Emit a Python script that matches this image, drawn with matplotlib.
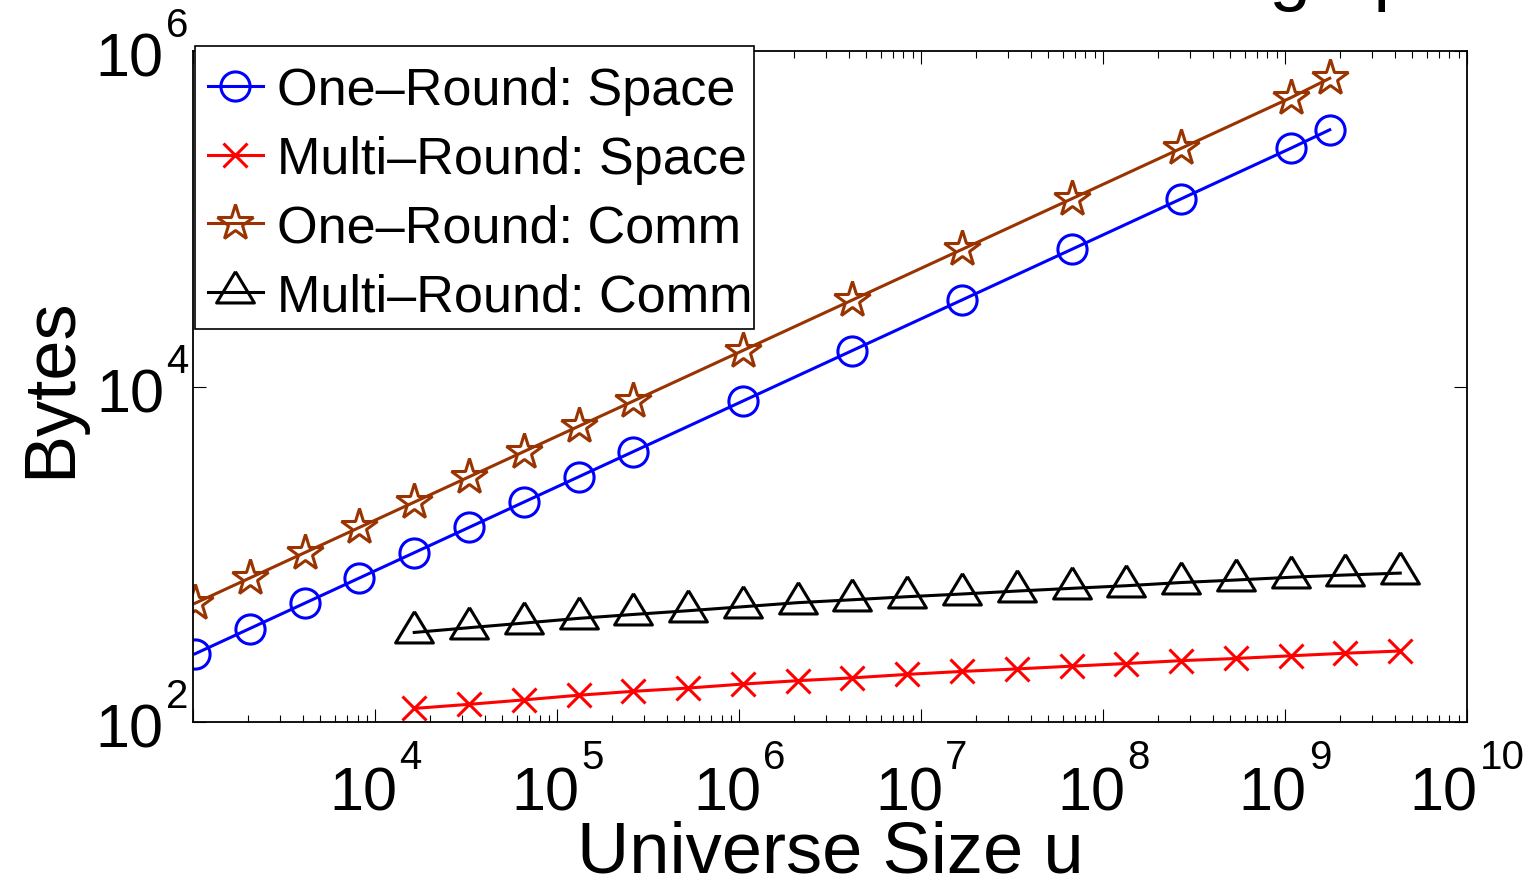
import numpy as np
import matplotlib
matplotlib.use("Agg")
import matplotlib.pyplot as plt
from matplotlib import font_manager
from matplotlib.patches import Rectangle
from matplotlib.ticker import LogLocator, NullLocator, NullFormatter
from matplotlib.transforms import ScaledTranslation, blended_transform_factory

# --- values ---
u_one = [1024, 2048, 4096, 8192, 16384, 32768, 65536, 131072, 262144,
         1048576, 4194304, 16777216, 67108864, 268435456, 1073741824, 1.76e9]
one_space = [256, 362, 512, 724, 1024, 1448, 2048, 2896, 4096,
             8192, 16384, 32768, 65536, 131072, 262144, 338000]
one_comm = [512, 724, 1024, 1448, 2048, 2896, 4096, 5793, 8192,
            16384, 32768, 65536, 131072, 262144, 524288, 685000]

u_multi = [16384, 32768, 65536, 131072, 262144, 524288, 1048576, 2097152,
           4194304, 8388608, 16777216, 33554432, 67108864, 134217728,
           268435456, 536870912, 1073741824, 2147483648, 4294967296]
multi_space = [121, 128, 136, 145, 153, 160, 169, 177, 184, 193,
               201, 208, 216, 224, 233, 240, 249, 258, 266]
multi_comm = [343, 366, 390, 416, 439, 462, 488, 516, 537, 560,
              581, 605, 628, 651, 680, 704, 731, 754, 774]

labels = ["One\u2013Round: Space", "Multi\u2013Round: Space",
          "One\u2013Round: Comm", "Multi\u2013Round: Comm"]
x_ticks = [1e3, 1e4, 1e5, 1e6, 1e7, 1e8, 1e9, 1e10]
x_exps = ["", "4", "5", "6", "7", "8", "9", "10"]   # 10^3 has no label
y_ticks = [1e2, 1e4, 1e6]
y_exps = ["2", "4", "6"]

# fonts
names = {f.name for f in font_manager.fontManager.ttflist}
main_font = "Liberation Sans" if "Liberation Sans" in names else "DejaVu Sans"
if "Liberation Sans Narrow" in names:
    tick_font, base_size, exp_size = "Liberation Sans Narrow", 48, 31
else:
    tick_font, base_size, exp_size = main_font, 44, 29
plt.rcParams["font.family"] = [main_font, "DejaVu Sans"]

# triangle with the data point 2/3 of the way down, like the original
tri = [(0, 19.3), (-17.5, -9.7), (17.5, -9.7), (0, 19.3)]

fig = plt.figure(figsize=(15.36, 8.79), dpi=100)
ax = fig.add_axes([0.1258, 0.1771, 0.8293, 0.7641])

lw = 2.2
ax.plot(u_one, one_space, "-", color="blue", lw=lw, marker="o", ms=21,
        mfc="none", mew=lw, label=labels[0])
ax.plot(u_multi, multi_space, "-", color="red", lw=lw, marker="x", ms=17,
        mew=lw, label=labels[1])
ax.plot(u_one, one_comm, "-", color="#993300", lw=lw, marker="*", ms=27,
        mfc="none", mew=lw, label=labels[2])
ax.plot(u_multi, multi_comm, "-", color="black", lw=lw, marker=tri, ms=30,
        mfc="none", mew=lw, label=labels[3])

ax.set_xscale("log")
ax.set_yscale("log")
ax.set_xlim(1e3, 1e10)
ax.set_ylim(1e2, 1e6)

ax.set_xticks(x_ticks)
ax.set_xticklabels([])
ax.xaxis.set_minor_locator(LogLocator(base=10, subs=np.arange(2, 10), numticks=50))
ax.xaxis.set_minor_formatter(NullFormatter())
ax.set_yticks(y_ticks)
ax.set_yticklabels([])
ax.yaxis.set_minor_locator(NullLocator())

ax.tick_params(which="both", direction="in", top=True, right=True, width=0.8)
ax.tick_params(which="major", length=9.4)
ax.tick_params(which="minor", length=5)
for s in ax.spines.values():
    s.set_linewidth(1.3)


# tick labels in the MATLAB style: "10" with a high exponent
def off(dx, dy):
    return ScaledTranslation(dx / 100, dy / 100, fig.dpi_scale_trans)


renderer = fig.canvas.get_renderer()
bx = blended_transform_factory(ax.transData, ax.transAxes)
for t, e in zip(x_ticks, x_exps):
    if not e:
        continue
    t10 = ax.text(t, 0, "10", transform=bx, ha="left", va="baseline",
                  fontsize=base_size, family=tick_font, clip_on=False)
    te = ax.text(t, 0, e, transform=bx, ha="left", va="baseline",
                 fontsize=exp_size, family=tick_font, clip_on=False)
    w10 = t10.get_window_extent(renderer).width
    we = te.get_window_extent(renderer).width
    left = -(w10 + 2 + we) / 2
    t10.set_transform(bx + off(left, -86.7))
    te.set_transform(bx + off(left + w10 + 2, -45.5))

by = blended_transform_factory(ax.transAxes, ax.transData)
for t, e in zip(y_ticks, y_exps):
    te = ax.text(0, t, e, transform=by + off(-5, 15), ha="right",
                 va="baseline", fontsize=exp_size, family=tick_font,
                 clip_on=False)
    we = te.get_window_extent(renderer).width
    ax.text(0, t, "10", transform=by + off(-7 - we, -24.5), ha="right",
            va="baseline", fontsize=base_size, family=tick_font, clip_on=False)

ax.set_xlabel("Universe Size u", fontsize=52)
ax.xaxis.label.set_va("baseline")
ax.xaxis.set_label_coords(0.5, -0.2214)
ax.set_ylabel("Bytes", fontsize=52)
ax.yaxis.label.set_va("baseline")
ax.yaxis.set_label_coords(-0.0968, 0.5)

# legend box drawn by hand so its size matches the original
ax.add_patch(Rectangle((195 / 1536, 1 - 330 / 879), (754 - 195) / 1536,
                       (330 - 47) / 879, transform=fig.transFigure,
                       facecolor="white", edgecolor="black", lw=1.2,
                       zorder=4, clip_on=False))
leg = ax.legend(loc="upper left", bbox_to_anchor=(208 / 1536, 1 - 67 / 879),
                bbox_transform=fig.transFigure, borderaxespad=0, borderpad=0,
                fontsize=37.5, handlelength=1.05, handletextpad=0.28,
                labelspacing=0.38, frameon=False)

# title sits almost entirely above the canvas, only descenders show
fig.text(1065 / 1536, 1 + 3 / 879, "Scaling up", fontsize=54,
         ha="left", va="baseline")

fig.savefig("out.png", dpi=100)
